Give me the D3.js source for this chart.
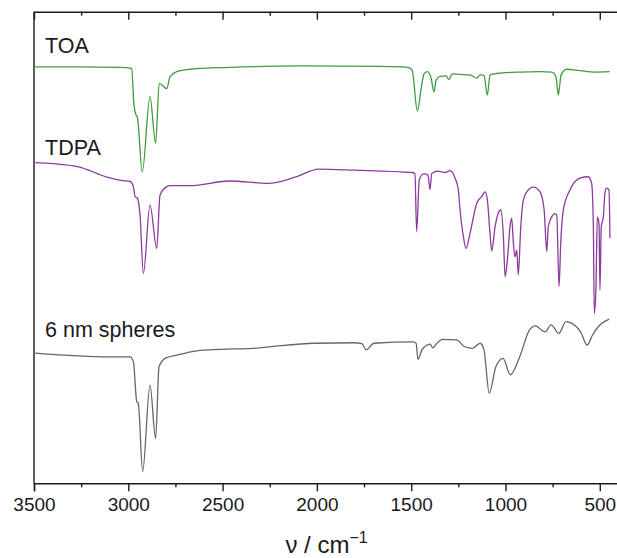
<!DOCTYPE html>
<html>
<head>
<meta charset="utf-8">
<script src="https://cdn.jsdelivr.net/npm/d3@7"></script>
<style>
	body { margin: 0; background: #fff; }
	svg { display: block; font-family: "Liberation Sans", Arial, sans-serif; }
	.axis path, .axis line { stroke: #1a1a1a; stroke-width: 1.4; }
	.axis text { font-size: 19px; fill: #1a1a1a; }
</style>
</head>
<body>
<div class="chart"></div>
<script>

// wavenumber (cm-1) / transmittance (offset, a.u.)
var toaWave = [3500, 3256, 3044, 2982, 2970, 2959, 2952, 2926, 2885, 2855, 2836, 2796, 2779, 2743, 2673, 2461, 2089, 1665, 1517, 1495, 1467, 1448, 1432, 1414, 1395, 1379, 1368, 1347, 1315, 1300, 1283, 1241, 1188, 1152, 1135, 1114, 1096, 1082, 1047, 923, 817, 753, 732, 720, 705, 675, 605, 525, 448];
var toaT    = [88.3, 88.3, 88.2, 88.0, 80.2, 78.1, 77.7, 66.0, 82.0, 72.1, 84.8, 83.7, 86.2, 87.3, 87.8, 88.2, 88.5, 88.4, 88.2, 87.6, 78.9, 83.4, 86.8, 87.3, 86.0, 83.0, 85.5, 86.3, 86.4, 85.6, 86.8, 86.7, 86.6, 85.9, 86.6, 86.5, 82.3, 86.6, 86.9, 87.2, 87.3, 87.2, 86.2, 82.3, 86.6, 87.8, 87.5, 87.2, 87.3];

var tdpaWave = [3493, 3400, 3263, 3118, 3030, 2991, 2973, 2964, 2952, 2938, 2920, 2885, 2849, 2832, 2796, 2779, 2673, 2461, 2259, 2116, 1990, 1803, 1495, 1480, 1471, 1457, 1436, 1411, 1400, 1391, 1358, 1321, 1294, 1267, 1250, 1241, 1223, 1209, 1188, 1152, 1126, 1108, 1096, 1082, 1073, 1055, 1038, 1025, 1011, 1002, 990, 976, 967, 958, 949, 940, 932, 919, 905, 887, 852, 817, 795, 781, 773, 755, 737, 728, 716, 707, 693, 658, 605, 561, 543, 534, 529, 520, 513, 504, 499, 492, 481, 472, 463, 451, 446];
var tdpaT    = [68.0, 67.8, 67.1, 65.0, 64.2, 64.0, 62.9, 60.8, 60.5, 57.0, 44.5, 59.0, 49.8, 61.1, 62.9, 63.1, 63.1, 64.1, 63.6, 64.9, 66.6, 66.4, 65.9, 65.7, 53.4, 64.3, 65.6, 65.4, 62.3, 65.7, 66.2, 65.9, 66.3, 64.7, 62.2, 58.0, 52.3, 49.8, 53.0, 59.4, 60.8, 61.8, 60.1, 53.0, 49.3, 54.4, 57.3, 58.0, 52.3, 43.8, 47.3, 54.4, 56.2, 50.9, 48.0, 49.5, 44.2, 54.4, 60.1, 61.8, 62.8, 61.8, 58.0, 49.1, 54.4, 56.5, 57.2, 56.9, 41.7, 50.9, 58.0, 62.2, 64.7, 65.0, 63.6, 54.4, 36.0, 41.7, 56.5, 55.1, 41.0, 54.4, 56.5, 61.8, 62.6, 62.2, 52.0];

var nsWave = [3493, 3097, 2991, 2973, 2955, 2947, 2924, 2885, 2855, 2837, 2805, 2742, 2637, 2512, 2344, 2219, 2011, 1802, 1761, 1739, 1698, 1489, 1474, 1464, 1443, 1416, 1400, 1385, 1368, 1333, 1260, 1218, 1176, 1134, 1114, 1086, 1051, 1013, 974, 925, 873, 842, 790, 758, 717, 679, 654, 602, 566, 539, 508, 450];
var nsT    = [27.6, 26.8, 26.8, 25.8, 17.3, 17.0, 2.5, 20.8, 9.5, 24.7, 26.5, 27.2, 28.1, 28.4, 28.6, 29.1, 29.7, 29.8, 29.6, 28.3, 29.7, 30.0, 29.7, 26.3, 28.3, 29.3, 29.5, 28.7, 29.5, 30.5, 30.4, 29.0, 28.6, 29.7, 28.3, 19.1, 24.7, 26.5, 23.0, 26.8, 32.5, 33.4, 32.1, 33.6, 31.8, 34.3, 34.0, 32.1, 29.3, 31.4, 33.2, 34.8];

var seriesNames  = ['TOA', 'TDPA', '6 nm spheres'];
var seriesColors = ['#3f9b3f', '#8c3a9c', '#666666'];
var labelT       = [91.2, 69.6, 31.1];

var majorTicks = [3500, 3000, 2500, 2000, 1500, 1000, 500];
var minorTicks = [3250, 2750, 2250, 1750, 1250, 750];

var irChart = (function() {

	var width = 617, height = 558;
	var left = 34, right = 619, top = 11.7, bottom = 483.3;

	var init = function() {

		var svg = d3.select('.chart')
					.append('svg')
					.attr('width', width)
					.attr('height', height);

		var x = d3.scaleLinear().domain([3500, 398]).range([left, right]);
		var y = d3.scaleLinear().domain([0, 100]).range([bottom, top]);

		drawAxes(svg, x, y);

		var all = [[toaWave, toaT], [tdpaWave, tdpaT], [nsWave, nsT]];

		var line = d3.line()
					.x(function(d) { return x(d[0]); })
					.y(function(d) { return y(d[1]); })
					.curve(d3.curveMonotoneX);

		all.forEach(function(s, i) {
			var pts = d3.zip(s[0], s[1]);
			svg.append('path')
				.datum(pts)
				.attr('fill', 'none')
				.attr('stroke', seriesColors[i])
				.attr('stroke-width', 1.3)
				.attr('stroke-linejoin', 'round')
				.attr('d', line);

			svg.append('text')
				.attr('x', 45)
				.attr('y', y(labelT[i]))
				.attr('font-size', '21.5px')
				.attr('fill', '#1a1a1a')
				.text(seriesNames[i]);
		});
	}

	var drawAxes = function(svg, x, y) {

		svg.append('g')
			.attr('class', 'axis')
			.attr('transform', 'translate(0,' + bottom + ')')
			.call(d3.axisBottom(x).tickValues(majorTicks).tickSize(8).tickPadding(6).tickFormat(d3.format('d')));

		svg.append('g')
			.attr('class', 'axis')
			.attr('transform', 'translate(0,' + bottom + ')')
			.call(d3.axisBottom(x).tickValues(minorTicks).tickSize(4).tickFormat(''))
			.select('.domain').remove();

		// top edge, ticks pointing into the frame
		svg.append('g')
			.attr('class', 'axis')
			.attr('transform', 'translate(0,' + top + ')')
			.call(d3.axisBottom(x).tickValues(majorTicks).tickSize(8).tickSizeOuter(0).tickFormat(''));

		svg.append('g')
			.attr('class', 'axis')
			.attr('transform', 'translate(0,' + top + ')')
			.call(d3.axisBottom(x).tickValues(minorTicks).tickSize(4).tickFormat(''))
			.select('.domain').remove();

		svg.append('line')
			.attr('x1', left).attr('x2', left)
			.attr('y1', top).attr('y2', bottom)
			.attr('stroke', '#1a1a1a')
			.attr('stroke-width', 1.4);

		var title = svg.append('text')
			.attr('x', (left + right) / 2)
			.attr('y', 553)
			.attr('text-anchor', 'middle')
			.attr('font-size', '24px')
			.attr('fill', '#1a1a1a');

		title.append('tspan').text('\u03BD / cm');
		title.append('tspan')
			.attr('dy', -10)
			.attr('font-size', '16px')
			.text('\u22121');
	}

	return {
		'init': init
	}

})();

irChart.init();
</script>
</body>
</html>
